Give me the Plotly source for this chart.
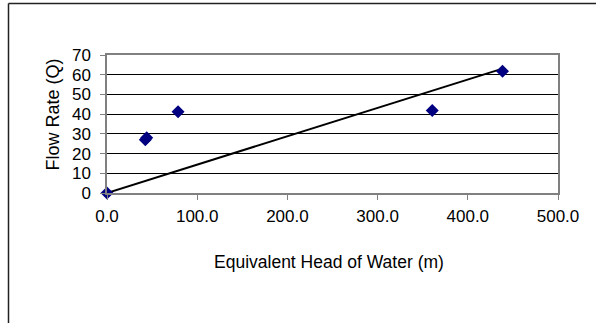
import numpy as np
import plotly.graph_objects as go

# Data
head_m = [0.0, 42.5, 44.0, 78.8, 360.6, 438.5]
flow_q = [0.0, 27.0, 28.0, 41.2, 41.8, 61.8]

x_ticks = [0, 100, 200, 300, 400, 500]
y_ticks = [0, 10, 20, 30, 40, 50, 60, 70]

# Linear trendline through the origin (least squares), as Excel does with intercept = 0
xa = np.array(head_m)
ya = np.array(flow_q)
slope = float((xa * ya).sum() / (xa * xa).sum())
trend_x = [0.0, float(xa.max())]
trend_y = [slope * v for v in trend_x]

FONT = "Liberation Sans, Arial, sans-serif"
W, H = 596, 323
ML, MR, MT, MB = 107, 38, 55, 130

fig = go.Figure()
fig.add_trace(go.Scatter(
    x=trend_x, y=trend_y, mode="lines",
    line=dict(color="black", width=2),
    cliponaxis=False, showlegend=False, hoverinfo="skip"))
fig.add_trace(go.Scatter(
    x=head_m, y=flow_q, mode="markers",
    marker=dict(symbol="diamond", size=10, color="#000080",
                line=dict(width=0)),
    cliponaxis=False, showlegend=False))

pw = W - ML - MR
ph = H - MT - MB

def px_to_paper_x(px):
    return (px - ML) / pw

def py_to_paper_y(py):
    return (H - MB - py) / ph

border = dict(color="#222222", width=1.5)

fig.update_layout(
    width=W, height=H,
    margin=dict(l=ML, r=MR, t=MT, b=MB, pad=0),
    paper_bgcolor="white", plot_bgcolor="white",
    font=dict(family=FONT, size=17, color="black"),
    xaxis=dict(
        range=[0, 500], tickvals=x_ticks, tickformat=".1f",
        showgrid=False, zeroline=False,
        showline=True, linecolor="#808080", linewidth=1.5, mirror=True,
        ticks="outside", ticklen=5, tickcolor="#808080", tickwidth=1,
        tickfont=dict(family=FONT, size=17, color="black"),
        ticklabelstandoff=2,
    ),
    yaxis=dict(
        range=[0, 70], tickvals=y_ticks,
        showgrid=True, gridcolor="black", gridwidth=1,
        zeroline=False,
        showline=True, linecolor="#808080", linewidth=1.5, mirror=True,
        ticks="outside", ticklen=5, tickcolor="#808080", tickwidth=1,
        tickfont=dict(family=FONT, size=17, color="black"),
        ticklabelstandoff=6,
    ),
    annotations=[
        dict(text="Equivalent Head of Water (m)", xref="paper", yref="paper",
             x=px_to_paper_x(329), y=py_to_paper_y(262),
             xanchor="center", yanchor="middle", showarrow=False,
             font=dict(family=FONT, size=17.5, color="black")),
        dict(text="Flow Rate (Q)", xref="paper", yref="paper",
             x=px_to_paper_x(52), y=py_to_paper_y(114.5),
             xanchor="center", yanchor="middle", showarrow=False, textangle=-90,
             font=dict(family=FONT, size=18, color="black")),
    ],
    shapes=[
        dict(type="line", xref="paper", yref="paper",
             x0=px_to_paper_x(8.5), x1=px_to_paper_x(8.5),
             y0=py_to_paper_y(330), y1=py_to_paper_y(3.5),
             line=border, layer="below"),
        dict(type="line", xref="paper", yref="paper",
             x0=px_to_paper_x(8.5), x1=px_to_paper_x(600),
             y0=py_to_paper_y(3.5), y1=py_to_paper_y(3.5),
             line=border, layer="below"),
    ],
)

fig.write_html("out.html")
